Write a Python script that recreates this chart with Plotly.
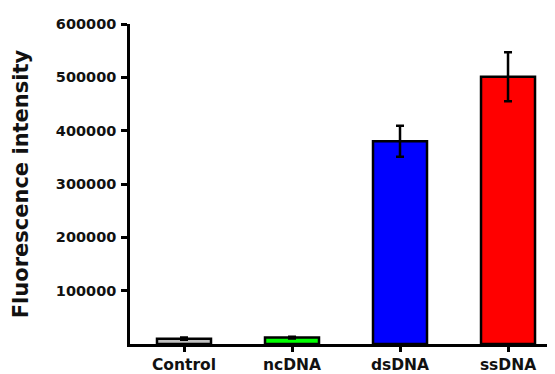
import plotly.graph_objects as go

categories = ["Control", "ncDNA", "dsDNA", "ssDNA"]
values = [10000, 12000, 380000, 501000]
errors = [2000, 1500, 29000, 46000]
colors = ["#C0C0C0", "#00FF00", "#0000FF", "#FF0000"]
y_ticks = [100000, 200000, 300000, 400000, 500000, 600000]

fig = go.Figure()
fig.add_trace(go.Bar(
    x=list(range(len(categories))),
    y=values,
    width=0.5,
    marker=dict(color=colors, line=dict(color="black", width=2.5)),
    error_y=dict(type="data", array=errors, visible=True,
                 color="black", thickness=2.5, width=4),
))

# page body has an 8px margin, so the figure is sized/offset to compensate
fig.update_layout(
    width=547, height=366,
    margin=dict(l=122, r=0, t=16, b=30, autoexpand=False),
    plot_bgcolor="white", paper_bgcolor="white",
    showlegend=False,
    font=dict(family="DejaVu Sans", color="black"),
)
fig.update_xaxes(
    range=[-0.5, 3.435],
    tickmode="array",
    tickvals=list(range(len(categories))),
    ticktext=[f"<b>{c}</b>" for c in categories],
    tickfont=dict(size=15.5, family="DejaVu Sans", color="#111"),
    ticks="outside", ticklen=5, tickwidth=2.5, tickcolor="black",
    showline=True, linecolor="black", linewidth=2.5,
    showgrid=False, zeroline=False,
)
fig.update_yaxes(
    range=[0, 600000],
    tickmode="array",
    tickvals=y_ticks,
    ticktext=[f"<b>{v}</b>" for v in y_ticks],
    tickfont=dict(size=14.5, family="DejaVu Sans", color="#111"),
    ticks="outside", ticklen=6, tickwidth=2.5, tickcolor="black",
    ticklabelstandoff=2,
    showline=True, linecolor="black", linewidth=2.5,
    showgrid=False, zeroline=False,
    title=dict(text="<b>Fluorescence intensity</b>",
               font=dict(size=21, family="DejaVu Sans", color="#111"),
               standoff=22),
)

fig.write_html("out.html")
